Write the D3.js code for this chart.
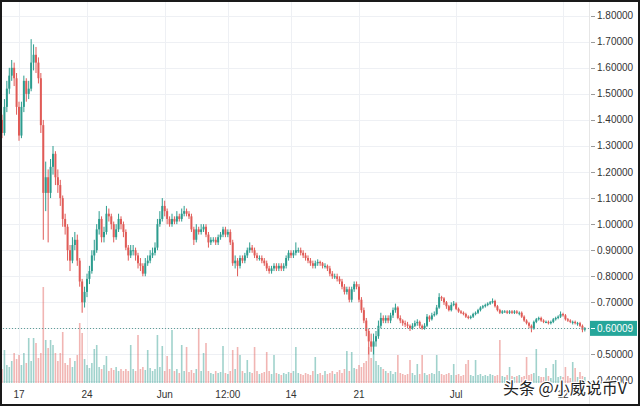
<!DOCTYPE html>
<html>
<head>
<meta charset="utf-8">
<script src="https://cdn.jsdelivr.net/npm/d3@7"></script>
<style>
  html, body { margin: 0; padding: 0; background: #fff; }
  svg { display: block; }
</style>
</head>
<body>
<div id="chart"></div>
<script>
// XRP/USDT style candles, 6h bars from May 15 to Jul 14
let firstOpen = 1.44;
let closes = [
  1.40, 1.35, 1.45, 1.52,  1.57, 1.60, 1.56, 1.45,  1.34, 1.45, 1.55, 1.50,  1.52, 1.62, 1.65, 1.62,
  1.56, 1.38, 1.12, 1.18,  1.12, 1.22, 1.27, 1.18,  1.15, 1.10, 1.02, 0.99,  0.90, 0.86, 0.92, 0.94,
  0.86, 0.78, 0.70, 0.74,  0.79, 0.82, 0.88, 0.90,  0.98, 1.02, 0.95, 0.97,  1.04, 1.03, 1.00, 0.95,
  0.98, 1.02, 1.00, 0.97,  0.91, 0.88, 0.90, 0.90,  0.88, 0.85, 0.84, 0.81,  0.85, 0.86, 0.88, 0.89,
  0.91, 1.00, 1.02, 1.07,  1.05, 1.02, 1.00, 1.02,  1.01, 1.03, 1.02, 1.04,  1.05, 1.04, 1.03, 0.98,
  0.94, 0.98, 0.97, 0.98,  0.99, 0.96, 0.93, 0.94,  0.94, 0.93, 0.95, 0.96,  0.98, 0.96, 0.97, 0.93,
  0.85, 0.86, 0.84, 0.87,  0.86, 0.88, 0.90, 0.91,  0.90, 0.88, 0.87, 0.87,  0.86, 0.85, 0.83, 0.82,
  0.83, 0.84, 0.83, 0.84,  0.83, 0.84, 0.87, 0.89,  0.88, 0.89, 0.90, 0.90,  0.89, 0.88, 0.87, 0.86,
  0.85, 0.84, 0.85, 0.855, 0.85, 0.84, 0.84, 0.83,  0.81, 0.80, 0.80, 0.79,  0.78, 0.76, 0.74, 0.75,
  0.71, 0.75, 0.77, 0.76,  0.71, 0.67, 0.63, 0.59,  0.55, 0.53, 0.55, 0.57,  0.61, 0.64, 0.63, 0.64,
  0.63, 0.65, 0.67, 0.68,  0.64, 0.63, 0.62, 0.615, 0.61, 0.60, 0.61, 0.62,  0.625, 0.61, 0.60, 0.61,
  0.645, 0.635, 0.65, 0.655, 0.68, 0.72, 0.715, 0.70, 0.685, 0.67, 0.69, 0.695, 0.675, 0.665, 0.66, 0.655,
  0.645, 0.64, 0.645, 0.655, 0.66, 0.67, 0.68, 0.685, 0.69, 0.695, 0.70, 0.705, 0.685, 0.67, 0.66, 0.665,
  0.665, 0.66, 0.665, 0.66, 0.665, 0.66, 0.66, 0.645, 0.63, 0.62, 0.61, 0.60,  0.625, 0.635, 0.64, 0.63,
  0.625, 0.625, 0.62, 0.625, 0.635, 0.64, 0.645, 0.655, 0.65, 0.635, 0.63, 0.625, 0.625, 0.62, 0.62, 0.61,
  0.595, 0.60009
];
let highs = [
  1.47, 1.42, 1.48, 1.55,  1.60, 1.63, 1.62, 1.58,  1.47, 1.47, 1.57, 1.56,  1.55, 1.71, 1.69, 1.68,
  1.64, 1.58, 1.40, 1.24,  1.21, 1.25, 1.30, 1.28,  1.21, 1.17, 1.11, 1.04,  1.00, 0.92, 0.95, 0.97,
  0.96, 0.87, 0.79, 0.76,  0.81, 0.84, 0.90, 0.94,  1.00, 1.05, 1.03, 0.99,  1.07, 1.06, 1.04, 1.01,
  1.00, 1.04, 1.03, 1.01,  0.98, 0.92, 0.92, 0.92,  0.91, 0.89, 0.87, 0.85,  0.87, 0.88, 0.90, 0.91,
  0.93, 1.02, 1.05, 1.10,  1.09, 1.06, 1.03, 1.04,  1.03, 1.05, 1.04, 1.06,  1.07, 1.06, 1.05, 1.04,
  0.99, 1.00, 0.99, 1.00,  1.00, 1.00, 0.97, 0.95,  0.95, 0.95, 0.96, 0.97,  0.99, 0.99, 0.98, 0.98,
  0.94, 0.88, 0.87, 0.88,  0.88, 0.89, 0.91, 0.93,  0.92, 0.91, 0.89, 0.88,  0.88, 0.87, 0.86, 0.84,
  0.84, 0.85, 0.85, 0.85,  0.85, 0.85, 0.88, 0.90,  0.90, 0.90, 0.93, 0.91,  0.91, 0.90, 0.89, 0.88,
  0.87, 0.86, 0.86, 0.865, 0.86, 0.855, 0.85, 0.845, 0.84, 0.82, 0.81, 0.81,  0.80, 0.79, 0.77, 0.76,
  0.76, 0.76, 0.78, 0.78,  0.77, 0.72, 0.68, 0.64,  0.60, 0.58, 0.58, 0.59,  0.63, 0.66, 0.65, 0.65,
  0.65, 0.66, 0.68, 0.695, 0.685, 0.65, 0.635, 0.63, 0.625, 0.615, 0.62, 0.63, 0.635, 0.63, 0.615, 0.62,
  0.655, 0.65, 0.66, 0.665, 0.69, 0.735, 0.725, 0.72, 0.705, 0.69, 0.70, 0.705, 0.70, 0.68, 0.67, 0.665,
  0.66, 0.65, 0.65, 0.66,  0.665, 0.675, 0.685, 0.69, 0.695, 0.70, 0.705, 0.715, 0.71, 0.69, 0.675, 0.67,
  0.67, 0.67, 0.67, 0.67,  0.67, 0.67, 0.665, 0.665, 0.65, 0.635, 0.625, 0.615, 0.63, 0.64, 0.645, 0.645,
  0.635, 0.63, 0.63, 0.63, 0.64, 0.645, 0.65, 0.665, 0.66, 0.655, 0.64, 0.635, 0.63, 0.63, 0.625, 0.625,
  0.615, 0.605
];
let lows = [
  1.37, 1.33, 1.34, 1.43,  1.50, 1.55, 1.53, 1.42,  1.32, 1.33, 1.43, 1.47,  1.48, 1.51, 1.59, 1.58,
  1.54, 1.35, 0.94, 1.05,  0.93, 1.10, 1.19, 1.15,  1.12, 1.07, 0.99, 0.96,  0.86, 0.82, 0.85, 0.90,
  0.84, 0.76, 0.66, 0.68,  0.72, 0.77, 0.81, 0.86,  0.89, 0.96, 0.93, 0.93,  0.96, 1.01, 0.98, 0.93,
  0.94, 0.97, 0.98, 0.95,  0.90, 0.86, 0.87, 0.88,  0.86, 0.83, 0.82, 0.80,  0.80, 0.84, 0.85, 0.87,
  0.88, 0.90, 0.99, 1.01,  1.03, 1.00, 0.99, 0.99,  1.00, 1.00, 1.01, 1.01,  1.03, 1.03, 1.02, 0.97,
  0.92, 0.93, 0.96, 0.96,  0.97, 0.95, 0.91, 0.92,  0.93, 0.92, 0.92, 0.94,  0.95, 0.95, 0.95, 0.92,
  0.84, 0.83, 0.80, 0.83,  0.85, 0.85, 0.87, 0.89,  0.89, 0.87, 0.86, 0.86,  0.85, 0.84, 0.82, 0.81,
  0.81, 0.82, 0.82, 0.82,  0.82, 0.82, 0.83, 0.86,  0.87, 0.87, 0.88, 0.89,  0.88, 0.87, 0.86, 0.85,
  0.84, 0.83, 0.83, 0.84,  0.84, 0.83, 0.83, 0.82,  0.80, 0.79, 0.79, 0.78,  0.77, 0.75, 0.73, 0.73,
  0.70, 0.70, 0.74, 0.75,  0.70, 0.66, 0.62, 0.57,  0.50, 0.51, 0.50, 0.53,  0.56, 0.60, 0.62, 0.62,
  0.62, 0.62, 0.64, 0.66,  0.635, 0.62, 0.61, 0.605, 0.60, 0.59, 0.595, 0.605, 0.61, 0.60, 0.595, 0.595,
  0.605, 0.625, 0.63, 0.645, 0.65, 0.675, 0.705, 0.69, 0.675, 0.665, 0.665, 0.685, 0.67, 0.66, 0.655, 0.65,
  0.64, 0.635, 0.635, 0.64, 0.65, 0.655, 0.665, 0.675, 0.68, 0.685, 0.69, 0.695, 0.68, 0.665, 0.655, 0.655,
  0.66, 0.655, 0.655, 0.655, 0.655, 0.655, 0.65, 0.64, 0.625, 0.615, 0.60, 0.585, 0.595, 0.62, 0.63, 0.625,
  0.62, 0.62, 0.615, 0.615, 0.62, 0.63, 0.635, 0.64, 0.645, 0.63, 0.625, 0.62, 0.615, 0.615, 0.61, 0.605,
  0.585, 0.588
];
// volume, millions
let volumes = [
  20, 14, 33, 18,  16, 22, 30, 24,  28, 18, 30, 20,  45, 22, 45, 40,
  25, 30, 96, 43,  35, 43, 38, 30,  22, 30, 51, 20,  18, 25, 16, 22,
  28, 60, 50, 24,  18, 15, 20, 34,  38, 16, 14, 18,  27, 12, 15, 13,
  16, 12, 14, 12,  14, 12, 38, 14,  12, 48, 14, 16,  13, 33, 15, 12,
  14, 48, 16, 37,  12, 27, 14, 53,  12, 14, 10, 38,  12, 36, 11, 13,
  10, 14, 55, 12,  30, 40, 12, 10,  9, 12, 10, 11,   37, 10, 9, 12,
  33, 14, 36, 28,  12, 10, 23, 11,  10, 36, 12, 9,   10, 11, 31, 12,
  9, 28, 10, 9,    8, 10, 9, 11,    10, 12, 36, 10,  9, 8, 10, 9,
  8, 12, 26, 9,    10, 8, 12, 9,    10, 12, 9, 11,   13, 10, 14, 32,
  12, 31, 15, 14,  18, 16, 20, 22,  36, 25, 40, 22,  18, 16, 14, 12,
  10, 12, 9, 11,   28, 10, 9, 8,    9, 23, 10, 8,    19, 9, 28, 10,
  8, 9, 10, 9,     28, 12, 9, 8,    9, 10, 8, 19,    8, 9, 7, 8,
  19, 23, 8, 7,    23, 8, 9, 7,     8, 7, 9, 8,      7, 8, 43, 7,
  6, 8, 16, 7,     6, 7, 8, 6,      7, 26, 8, 9,     10, 34, 7, 6,
  6, 15, 7, 5,     19, 23, 6, 7,    6, 16, 7, 5,     21, 15, 6, 11,
  7, 6
];
let priceTicks = [0.4, 0.5, 0.6, 0.7, 0.8, 0.9, 1.0, 1.1, 1.2, 1.3, 1.4, 1.5, 1.6, 1.7, 1.8];
let timeTickDates = ['2021-05-17T00:00Z', '2021-05-24T00:00Z', '2021-06-01T00:00Z', '2021-06-07T12:00Z',
  '2021-06-14T00:00Z', '2021-06-21T00:00Z', '2021-07-01T00:00Z', '2021-07-12T00:00Z'];
let timeTickLabels = ['17', '24', 'Jun', '12:00', '14', '21', 'Jul', '12'];
let lastPrice = 0.60009;

let width = 640, height = 406;
let plotRight = 589, plotBottom = 383;
let upColor = '#2c9c8e', downColor = '#e05b57';
let font = '"Liberation Sans", Arial, sans-serif';

let start = new Date('2021-05-15T00:00Z');
let candles = closes.map((c, i) => ({
  t: new Date(start.getTime() + i * 6 * 3600 * 1000),
  o: i === 0 ? firstOpen : closes[i - 1],
  h: highs[i], l: lows[i], c: c, v: volumes[i]
}));

let x = d3.scaleUtc()
  .domain([new Date('2021-05-17T00:00Z'), new Date('2021-07-12T00:00Z')])
  .range([19, 563]);
let y = d3.scaleLinear().domain([0.4, 1.8]).range([380.5, 15.7]);
let yVol = d3.scaleLinear().domain([0, 100]).range([plotBottom, plotBottom - 100]);

let svg = d3.select('#chart').append('svg')
  .attr('width', width).attr('height', height);

svg.append('rect').attr('width', width).attr('height', height).attr('fill', '#fff');

// grid
let grid = svg.append('g').attr('stroke', '#eef0f4').attr('stroke-width', 1);
grid.selectAll('line.h').data(priceTicks).enter().append('line')
  .attr('x1', 0).attr('x2', plotRight)
  .attr('y1', d => Math.round(y(d)) + 0.5).attr('y2', d => Math.round(y(d)) + 0.5);
grid.selectAll('line.v').data(timeTickDates).enter().append('line')
  .attr('x1', d => Math.round(x(new Date(d))) + 0.5).attr('x2', d => Math.round(x(new Date(d))) + 0.5)
  .attr('y1', 0).attr('y2', plotBottom);

// volume
svg.append('g').selectAll('rect').data(candles).enter().append('rect')
  .attr('x', d => x(d.t) - 0.8)
  .attr('width', 1.6)
  .attr('y', d => yVol(d.v))
  .attr('height', d => plotBottom - yVol(d.v))
  .attr('fill', d => d.c >= d.o ? upColor : downColor)
  .attr('fill-opacity', 0.45);

// candles
let cg = svg.append('g');
cg.selectAll('line').data(candles).enter().append('line')
  .attr('x1', d => x(d.t)).attr('x2', d => x(d.t))
  .attr('y1', d => y(d.h)).attr('y2', d => y(d.l))
  .attr('stroke', d => d.c >= d.o ? upColor : downColor)
  .attr('stroke-width', 1);
cg.selectAll('rect').data(candles).enter().append('rect')
  .attr('x', d => x(d.t) - 1)
  .attr('width', 2)
  .attr('y', d => y(Math.max(d.o, d.c)))
  .attr('height', d => Math.max(1, Math.abs(y(d.o) - y(d.c))))
  .attr('fill', d => d.c >= d.o ? upColor : downColor);

// last price line
svg.append('line')
  .attr('x1', 0).attr('x2', plotRight)
  .attr('y1', Math.round(y(lastPrice)) + 0.5).attr('y2', Math.round(y(lastPrice)) + 0.5)
  .attr('stroke', '#5f9f97').attr('stroke-width', 1).attr('stroke-dasharray', '1,2');

// price scale
svg.append('line').attr('x1', plotRight + 0.5).attr('x2', plotRight + 0.5)
  .attr('y1', 0).attr('y2', height).attr('stroke', '#e6e6e6');
let pa = svg.append('g');
pa.selectAll('line').data(priceTicks).enter().append('line')
  .attr('x1', plotRight + 2).attr('x2', plotRight + 6)
  .attr('y1', d => Math.round(y(d)) + 0.5).attr('y2', d => Math.round(y(d)) + 0.5)
  .attr('stroke', '#999');
pa.selectAll('text').data(priceTicks).enter().append('text')
  .attr('x', 597).attr('y', d => y(d))
  .attr('dy', '0.35em')
  .attr('font-family', font).attr('font-size', 10).attr('fill', '#333')
  .text(d => d3.format('.5f')(d));

// last price label
let ly = y(lastPrice);
svg.append('rect').attr('x', plotRight + 1).attr('y', ly - 7.5).attr('width', 47).attr('height', 15)
  .attr('fill', '#26a69a');
svg.append('line').attr('x1', plotRight + 2).attr('x2', plotRight + 6)
  .attr('y1', Math.round(ly) + 0.5).attr('y2', Math.round(ly) + 0.5).attr('stroke', '#fff');
svg.append('text').attr('x', 597).attr('y', ly).attr('dy', '0.35em')
  .attr('font-family', font).attr('font-size', 10).attr('fill', '#fff')
  .text(d3.format('.5f')(lastPrice));

// time axis
svg.append('g').selectAll('text').data(timeTickDates).enter().append('text')
  .attr('x', d => x(new Date(d))).attr('y', 394).attr('dy', '0.35em')
  .attr('text-anchor', 'middle')
  .attr('font-family', font).attr('font-size', 10).attr('fill', '#333')
  .text((d, i) => timeTickLabels[i]);

// watermark
svg.append('text').attr('x', 503).attr('y', 394)
  .attr('font-family', '"Noto Sans CJK SC", sans-serif').attr('font-size', 16)
  .attr('fill', '#222').attr('stroke', '#fff').attr('stroke-width', 2.5)
  .attr('paint-order', 'stroke').attr('stroke-linejoin', 'round')
  .text('头条 @小威说币V');

// frame
svg.append('rect').attr('x', 1).attr('y', 1).attr('width', width - 2).attr('height', height - 2)
  .attr('fill', 'none').attr('stroke', '#1a1a1a').attr('stroke-width', 2);
</script>
</body>
</html>
